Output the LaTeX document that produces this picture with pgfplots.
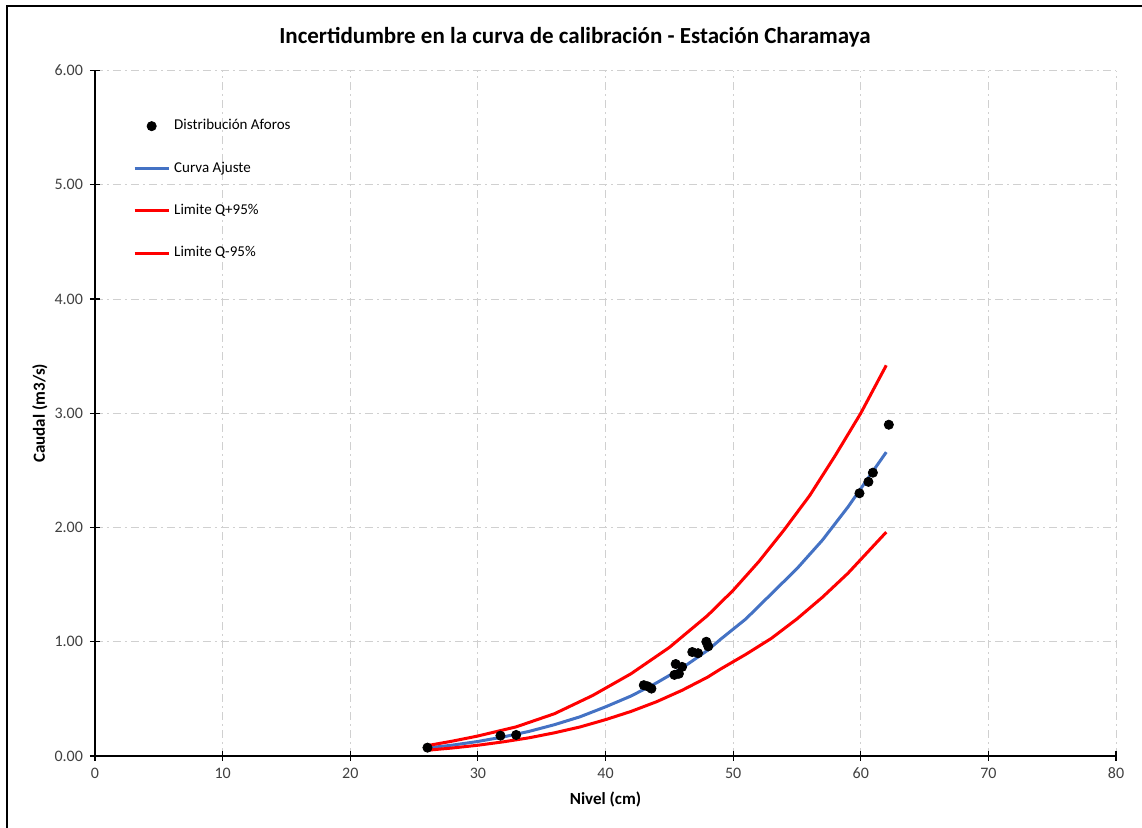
\documentclass[border=0pt]{standalone}
\usepackage{pgfplots}
\pgfplotsset{compat=1.18}
\usepackage{fontspec}
\setmainfont{Carlito}
\definecolor{fitblue}{HTML}{4472C4}
\definecolor{gridgray}{HTML}{D0D0D0}
\definecolor{ticktext}{HTML}{404040}
\begin{document}
\begin{tikzpicture}
\useasboundingbox (-47.5pt,-36pt) rectangle (523.5pt,378pt);
\draw[line width=1pt,black] (-44pt,-36pt) -- (-44pt,375pt) -- (523.5pt,375pt);
\node[font=\fontsize{11.5}{13}\selectfont\bfseries] at (240pt,359.5pt) {Incertidumbre en la curva de calibración - Estación Charamaya};
\begin{axis}[
  at={(0pt,0pt)}, anchor=south west,
  scale only axis, width=510.5pt, height=342.7pt,
  xmin=0, xmax=80, ymin=0, ymax=6,
  xtick={0,10,...,80}, ytick={0,1,...,6},
  axis x line*=bottom, axis y line*=left,
  axis line style={-, black, line width=0.75pt},
  tick align=center, major tick length=5pt,
  tick style={black, line width=0.6pt},
  grid=major,
  major grid style={gridgray, line width=0.5pt, dash pattern=on 4pt off 2pt on 1pt off 2pt},
  ticklabel style={font=\fontsize{8}{9.5}\selectfont, text=ticktext},
  /pgf/number format/assume math mode=true,
  yticklabel style={/pgf/number format/.cd, fixed, fixed zerofill, precision=2},
  xlabel={Nivel (cm)}, ylabel={Caudal (m3/s)},
  xlabel style={at={(axis description cs:0.5,-0.064)}, anchor=center, font=\fontsize{8.5}{10}\selectfont\bfseries},
  ylabel style={at={(axis description cs:-0.0539,0.5)}, anchor=center, font=\fontsize{8.5}{10}\selectfont\bfseries},
  legend style={at={(0.033,0.941)}, anchor=north west, draw=none, fill=none,
    font=\fontsize{7.5}{9}\selectfont, row sep=10.5pt, inner sep=2pt},
  legend cell align=left,
  clip=false,
]
\addplot[only marks, mark=*, mark size=2.3pt, black] coordinates {
(26.05,0.073) (31.77,0.178) (33.0,0.184)
(43.0,0.62) (43.3,0.61) (43.6,0.59)
(45.4,0.71) (45.5,0.805) (45.75,0.72) (46.0,0.78)
(46.8,0.91) (47.25,0.90) (47.9,1.00) (48.05,0.96)
(59.9,2.30) (60.6,2.40) (60.95,2.48) (62.2,2.90)
};
\addlegendentry{Distribución Aforos}
\addplot[fitblue, line width=1.5pt, no marks] coordinates {
(26,0.07) (28,0.095) (30,0.127) (32,0.167) (34,0.215) (36,0.274) (38,0.343)
(40,0.43) (42,0.525) (44,0.64) (46,0.77) (48,0.925) (49,1.02) (51,1.2)
(53,1.42) (55,1.64) (57,1.89) (59,2.18) (61,2.5) (62,2.66)
};
\addlegendentry{Curva Ajuste}
\addplot[red, line width=1.5pt, no marks] coordinates {
(26,0.09) (28,0.13) (30,0.175) (33,0.255) (36,0.37) (39,0.53) (42,0.72)
(45,0.95) (48,1.23) (50,1.45) (52,1.70) (54,1.98) (56,2.28) (58,2.63)
(60,3.00) (62,3.42)
};
\addlegendentry{Limite Q+95\%}
\addplot[red, line width=1.5pt, no marks] coordinates {
(26,0.05) (28,0.07) (30,0.094) (32,0.124) (34,0.159) (36,0.203) (38,0.254)
(40,0.318) (42,0.39) (44,0.475) (46,0.575) (48,0.69) (49,0.76) (51,0.89)
(53,1.03) (55,1.2) (57,1.39) (59,1.6) (61,1.84) (62,1.96)
};
\addlegendentry{Limite Q-95\%}
\end{axis}
\end{tikzpicture}
\end{document}
